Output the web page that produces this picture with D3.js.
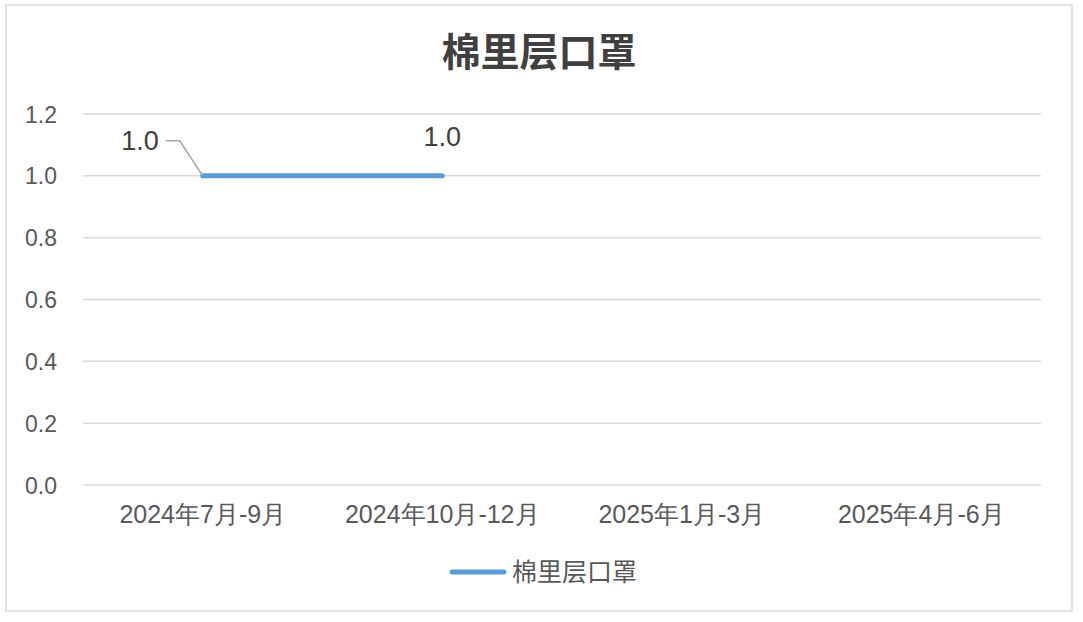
<html>
<head>
<meta charset="utf-8">
<script src="https://d3js.org/d3.v7.min.js"></script>
<style>
  body { margin: 0; background: white; font-family: "Liberation Sans", "Noto Sans CJK SC", sans-serif; }
  .grid line { stroke: #d9d9d9; stroke-width: 1.5px; }
  .tick text { fill: #595959; font-size: 23px; }
  .xaxis .tick text { font-size: 25px; }
</style>
</head>
<body>
<svg id="chart" width="1083" height="622"></svg>
<script>
  const categories = ["2024年7月-9月", "2024年10月-12月", "2025年1月-3月", "2025年4月-6月"];
  const values = [1.0, 1.0, null, null];
  const yTicks = [0, 0.2, 0.4, 0.6, 0.8, 1.0, 1.2];
  const seriesName = "棉里层口罩";

  const svg = d3.select("#chart");
  const margin = { top: 114, right: 42, bottom: 137, left: 83 };
  const width = 1083, height = 622;
  const plotW = width - margin.left - margin.right;
  const plotH = height - margin.top - margin.bottom;

  svg.append("rect")
    .attr("x", 6).attr("y", 5).attr("width", 1066).attr("height", 606)
    .attr("fill", "white").attr("stroke", "#d9d9d9").attr("stroke-width", 1.5);

  svg.append("text")
    .attr("x", 539).attr("y", 66)
    .attr("text-anchor", "middle")
    .attr("font-size", 39).attr("font-weight", "bold")
    .attr("fill", "#404040")
    .text(seriesName);

  const g = svg.append("g").attr("transform", "translate(" + margin.left + "," + margin.top + ")");

  const x = d3.scaleBand().domain(categories).range([0, plotW]);
  const y = d3.scaleLinear().domain([0, 1.2]).range([plotH, 0]);

  // gridlines
  g.append("g").attr("class", "grid")
    .selectAll("line").data(yTicks).join("line")
    .attr("x1", 0).attr("x2", plotW)
    .attr("y1", d => y(d)).attr("y2", d => y(d));

  const yAxis = g.append("g")
    .call(d3.axisLeft(y).tickValues(yTicks).tickFormat(d3.format(".1f")).tickSize(0).tickPadding(26));
  yAxis.select(".domain").remove();
  yAxis.selectAll("text").attr("dy", "0.35em");

  const xAxis = g.append("g")
    .attr("class", "xaxis")
    .attr("transform", "translate(0," + plotH + ")")
    .call(d3.axisBottom(x).tickSize(0).tickPadding(20));
  xAxis.select(".domain").remove();
  xAxis.selectAll("text").attr("dy", "0.72em");

  const cx = d => x(d) + x.bandwidth() / 2;
  const pts = categories.map((c, i) => ({ c: c, v: values[i] })).filter(d => d.v != null);

  g.append("path")
    .datum(pts)
    .attr("fill", "none")
    .attr("stroke", "#5b9bd5")
    .attr("stroke-width", 5)
    .attr("stroke-linecap", "round")
    .attr("d", d3.line().x(d => cx(d.c)).y(d => y(d.v)));

  // data labels
  const p0 = pts[0];
  g.append("polyline")
    .attr("fill", "none").attr("stroke", "#a6a6a6").attr("stroke-width", 1.5)
    .attr("points", [[cx(p0.c) - 37, y(p0.v) - 35], [cx(p0.c) - 23, y(p0.v) - 35], [cx(p0.c), y(p0.v)]].join(" "));
  g.append("text")
    .attr("x", cx(p0.c) - 44).attr("y", y(p0.v) - 35)
    .attr("dy", "0.35em").attr("text-anchor", "end")
    .attr("font-size", 27).attr("fill", "#404040")
    .text(d3.format(".1f")(p0.v));

  const p1 = pts[1];
  g.append("text")
    .attr("x", cx(p1.c)).attr("y", y(p1.v) - 39)
    .attr("dy", "0.35em").attr("text-anchor", "middle")
    .attr("font-size", 27).attr("fill", "#404040")
    .text(d3.format(".1f")(p1.v));

  // legend
  const legend = svg.append("g").attr("transform", "translate(450,572)");
  legend.append("line")
    .attr("x1", 2).attr("x2", 54).attr("y1", 0).attr("y2", 0)
    .attr("stroke", "#5b9bd5").attr("stroke-width", 5).attr("stroke-linecap", "round");
  legend.append("text")
    .attr("x", 62).attr("y", 0).attr("dy", "0.35em")
    .attr("font-size", 25).attr("fill", "#595959")
    .text(seriesName);
</script>
</body>
</html>
